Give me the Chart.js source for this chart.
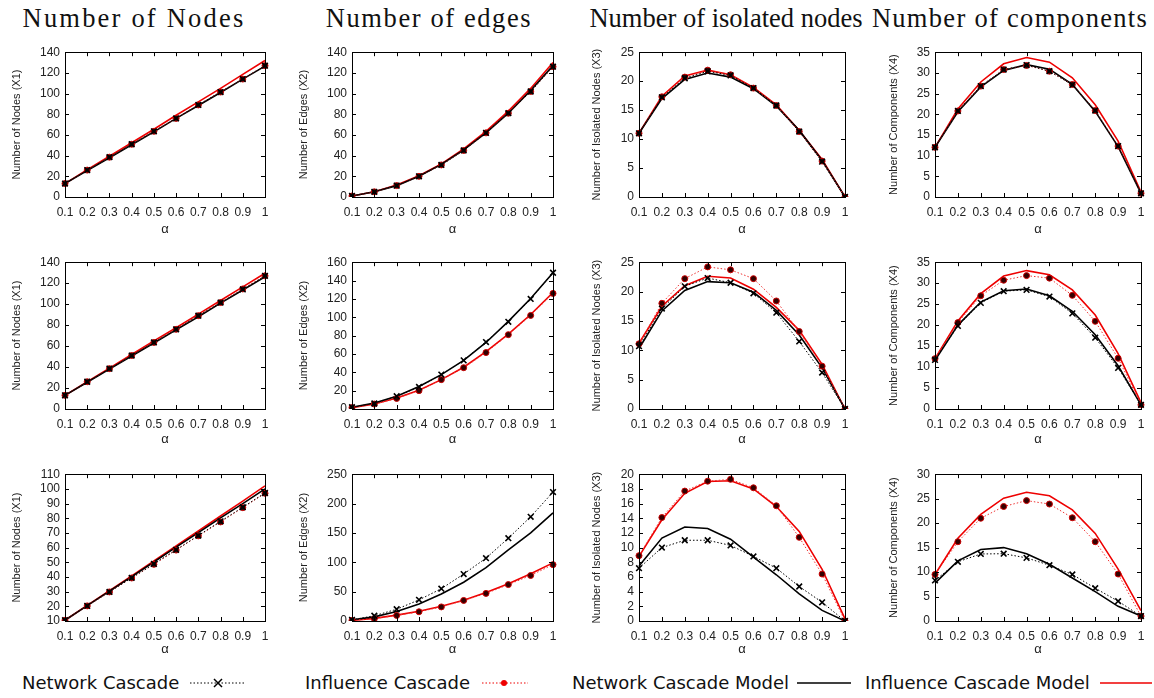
<!DOCTYPE html>
<html>
<head>
<meta charset="utf-8">
<script src="https://cdn.jsdelivr.net/npm/chart.js@4.4.0/dist/chart.umd.min.js"></script>
<style>
  body { margin: 0; background: #fff; }
  #page { position: relative; width: 1154px; height: 698px; overflow: hidden; }
  .cell { position: absolute; }
  .title {
    position: absolute; top: 3px; white-space: nowrap;
    font-family: "Liberation Serif", "DejaVu Serif", serif; font-size: 26.5px; color: #111;
    transform: translateX(-50%);
  }
  .legtext {
    position: absolute; top: 672px; white-space: nowrap;
    font-family: "DejaVu Sans", sans-serif; font-size: 18px; color: #111;
  }
  .legline { position: absolute; top: 674px; }
</style>
</head>
<body>
<div id="page">
  <div class="title" style="left:134px; letter-spacing:2.2px">Number of Nodes</div>
  <div class="title" style="left:429px; letter-spacing:1.6px">Number of edges</div>
  <div class="title" style="left:726px">Number of isolated nodes</div>
  <div class="title" style="left:1010px; letter-spacing:1.3px">Number of components</div>

  <div class="legtext" style="left:22px">Network Cascade</div>
  <svg class="legline" style="left:188px" width="60" height="18">
    <line x1="2" y1="9" x2="58" y2="9" stroke="#000" stroke-width="1" stroke-dasharray="1.5 2"/>
    <path d="M26 5 L34 13 M34 5 L26 13" stroke="#000" stroke-width="1.5"/>
  </svg>
  <div class="legtext" style="left:305px">Influence Cascade</div>
  <svg class="legline" style="left:480px" width="50" height="18">
    <line x1="2" y1="9" x2="48" y2="9" stroke="#e00" stroke-width="1" stroke-dasharray="1.5 2"/>
    <circle cx="24" cy="9" r="3" fill="#e00"/>
  </svg>
  <div class="legtext" style="left:572px">Network Cascade Model</div>
  <svg class="legline" style="left:795px" width="58" height="18">
    <line x1="2" y1="9" x2="56" y2="9" stroke="#000" stroke-width="1.5"/>
  </svg>
  <div class="legtext" style="left:865px">Influence Cascade Model</div>
  <svg class="legline" style="left:1098px" width="56" height="18">
    <line x1="2" y1="9" x2="54" y2="9" stroke="#e00" stroke-width="1.5"/>
  </svg>
</div>

<script>
// alpha values on the x axis
const alphaLabels = ['0.1', '0.2', '0.3', '0.4', '0.5', '0.6', '0.7', '0.8', '0.9', '1'];

// row 1
const nodes1NC  = [13, 26, 38.5, 51, 63.5, 76, 89, 101.5, 114, 127];
const nodes1IC  = [13, 26, 38.5, 51, 63.5, 76, 89, 101.5, 114, 127];
const nodes1NCM = [13, 25.5, 38, 50.5, 63, 76, 88.5, 101, 114, 126.5];
const nodes1ICM = [13, 26.5, 39.5, 52.5, 65.5, 79, 92, 105, 118.5, 132];

const edges1NC  = [1, 5, 11, 20, 31, 45, 62, 81, 102, 126];
const edges1IC  = [1, 5, 11, 20, 31, 45, 62, 81, 102, 126];
const edges1NCM = [1, 5, 11, 20, 31.5, 45.5, 62, 81, 103, 127];
const edges1ICM = [1, 5, 11.5, 20.5, 32, 46.5, 63.5, 83, 105, 130];

const iso1NC  = [11, 17.2, 20.5, 21.7, 21, 18.8, 15.8, 11.3, 6.1, 0];
const iso1IC  = [11, 17.3, 20.7, 21.9, 21.1, 18.8, 15.8, 11.3, 6.2, 0];
const iso1NCM = [11, 17, 20.3, 21.4, 20.7, 18.7, 15.7, 11.5, 6.3, 0];
const iso1ICM = [11, 17.4, 20.9, 21.9, 21.1, 18.9, 15.9, 11.5, 6.5, 0];

const comp1NC  = [12, 20.8, 26.8, 30.8, 31.9, 30.4, 27.1, 20.9, 12.3, 0.9];
const comp1IC  = [12, 20.8, 26.8, 30.8, 31.8, 30.4, 27.2, 20.9, 12.3, 0.9];
const comp1NCM = [12, 20.6, 26.6, 30.6, 32.0, 30.9, 27.2, 20.7, 12.2, 0.9];
const comp1ICM = [12, 21.3, 27.8, 32.2, 33.7, 32.6, 28.8, 22.3, 13.5, 1.2];

// row 2
const nodes2NC  = [13, 26, 38.5, 51, 63.5, 76, 89, 101.5, 114, 127];
const nodes2IC  = [13, 26, 38.5, 51, 63.5, 76, 89, 101.5, 114.5, 127];
const nodes2NCM = [13, 25.5, 38, 50.5, 63, 75.5, 88, 101, 113.5, 126];
const nodes2ICM = [13, 26, 39, 52, 65, 77.5, 90.5, 103.5, 116.5, 129.5];

const edges2NC  = [2, 6, 14, 24, 37.5, 53, 73, 95, 120, 148.5];
const edges2IC  = [1.5, 5.4, 11.5, 20, 32, 45, 61.5, 81, 102, 126];
const edges2NCM = [2, 6.5, 14, 24.5, 37.5, 53, 72.5, 95.5, 120.5, 148.5];
const edges2ICM = [1.5, 5.5, 12, 20.5, 32, 45.5, 62.5, 81.5, 103, 127];

const iso2NC  = [10.7, 17.1, 20.9, 22.3, 21.5, 19.7, 16.4, 11.5, 6.2, 0];
const iso2IC  = [11.1, 18.0, 22.2, 24.2, 23.7, 22.2, 18.4, 13.2, 7.3, 0];
const iso2NCM = [10.3, 16.7, 20.2, 21.7, 21.5, 19.9, 16.8, 12.6, 7.0, 0];
const iso2ICM = [11.2, 17.5, 21.0, 22.6, 22.3, 20.4, 17.3, 13.4, 7.6, 0];

const comp2NC  = [11.7, 19.8, 25.3, 28.1, 28.4, 26.8, 22.8, 17.0, 9.8, 1.0];
const comp2IC  = [12, 20.6, 27.0, 30.7, 31.8, 31.2, 27.1, 20.9, 12.1, 1.0];
const comp2NCM = [11.6, 20.0, 25.5, 28.2, 28.6, 27.0, 23.3, 17.7, 10.3, 1.0];
const comp2ICM = [12, 21.0, 27.5, 31.7, 33.0, 32.0, 28.4, 22.4, 13.2, 1.5];

// row 3
const nodes3NC  = [10.5, 20.3, 29.8, 39.4, 48.9, 58.5, 68.2, 77.9, 87.5, 97.2];
const nodes3IC  = [10.5, 20.3, 29.8, 39.3, 48.6, 58.3, 68.0, 77.5, 87.2, 97.0];
const nodes3NCM = [10.5, 20.5, 30.3, 40.2, 50.2, 60.3, 70.2, 80.2, 90.0, 100.0];
const nodes3ICM = [10.5, 20.7, 30.6, 40.7, 51, 61.2, 71.3, 81.5, 91.7, 102];

const edges3NC  = [2, 9, 20, 36, 55, 80, 107, 141, 177.5, 219.5];
const edges3IC  = [1, 4, 9.5, 15.7, 24, 35, 47, 62, 77.5, 96];
const edges3NCM = [2, 7, 16, 29, 46, 66, 91, 121, 150, 184];
const edges3ICM = [1, 4.5, 10, 16.5, 25, 35.5, 48.5, 63.5, 80.5, 99];

const iso3NC  = [7.2, 10.0, 11.0, 11.0, 10.3, 8.8, 7.2, 4.7, 2.55, 0];
const iso3IC  = [8.9, 14.1, 17.7, 19.05, 19.3, 18.15, 15.7, 11.4, 6.4, 0];
const iso3NCM = [7.5, 11.3, 12.8, 12.6, 11.15, 8.7, 6.3, 3.7, 1.45, 0];
const iso3ICM = [8.8, 13.8, 17.4, 19.0, 19.1, 18.0, 15.6, 12.2, 7.05, 0.3];

const comp3NC  = [8.3, 12.1, 13.7, 13.75, 12.9, 11.4, 9.5, 6.7, 4.05, 1.0];
const comp3IC  = [9.5, 16.2, 21.0, 23.4, 24.6, 23.9, 21.1, 16.2, 9.6, 1.0];
const comp3NCM = [7.75, 12.3, 14.6, 15.0, 13.75, 11.6, 8.8, 6.0, 3.0, 1.0];
const comp3ICM = [9.5, 16.9, 21.8, 25.1, 26.3, 25.6, 22.7, 17.9, 10.6, 2.1];

// axis titles per column, y ranges per panel [min, max, step]
const yTitles = ['Number of Nodes (X1)', 'Number of Edges (X2)', 'Number of Isolated Nodes (X3)', 'Number of Components (X4)'];
const yRanges = [
  [[0, 140, 20], [0, 140, 20], [0, 25, 5], [0, 35, 5]],
  [[0, 140, 20], [0, 160, 20], [0, 25, 5], [0, 35, 5]],
  [[10, 110, 10], [0, 250, 50], [0, 20, 2], [0, 30, 5]]
];

const panels = [
  [[nodes1NC, nodes1IC, nodes1NCM, nodes1ICM], [edges1NC, edges1IC, edges1NCM, edges1ICM],
   [iso1NC, iso1IC, iso1NCM, iso1ICM], [comp1NC, comp1IC, comp1NCM, comp1ICM]],
  [[nodes2NC, nodes2IC, nodes2NCM, nodes2ICM], [edges2NC, edges2IC, edges2NCM, edges2ICM],
   [iso2NC, iso2IC, iso2NCM, iso2ICM], [comp2NC, comp2IC, comp2NCM, comp2ICM]],
  [[nodes3NC, nodes3IC, nodes3NCM, nodes3ICM], [edges3NC, edges3IC, edges3NCM, edges3ICM],
   [iso3NC, iso3IC, iso3NCM, iso3ICM], [comp3NC, comp3IC, comp3NCM, comp3ICM]]
];

// cell geometry
const cols = [
  { left: 0,   width: 290, axisW: 65, padR: 25, titlePad: 10 },
  { left: 290, width: 290, axisW: 62, padR: 27, titlePad: 7 },
  { left: 580, width: 290, axisW: 59, padR: 25, titlePad: 10 },
  { left: 870, width: 284, axisW: 65, padR: 13, titlePad: 17 }
];
const rows = [
  { top: 40,  height: 200, padT: 10, axisH: 43 },
  { top: 250, height: 200, padT: 11, axisH: 41 },
  { top: 462, height: 198, padT: 10, axisH: 39 }
];

Chart.defaults.font.family = '"Liberation Sans", Arial, sans-serif';
Chart.defaults.color = '#222';

// gnuplot style box with inward tick marks
const frameTicks = {
  id: 'frameTicks',
  afterDatasetsDraw(chart) {
    const { ctx, chartArea: a, scales } = chart;
    ctx.save();
    ctx.strokeStyle = '#000';
    ctx.lineWidth = 1;
    ctx.beginPath();
    scales.y.ticks.forEach((t, i) => {
      const y = Math.round(scales.y.getPixelForTick(i)) + 0.5;
      ctx.moveTo(a.left, y); ctx.lineTo(a.left + 4, y);
      ctx.moveTo(a.right, y); ctx.lineTo(a.right - 4, y);
    });
    scales.x.ticks.forEach((t, i) => {
      const x = Math.round(scales.x.getPixelForTick(i)) + 0.5;
      ctx.moveTo(x, a.bottom); ctx.lineTo(x, a.bottom - 4);
      ctx.moveTo(x, a.top); ctx.lineTo(x, a.top + 4);
    });
    ctx.stroke();
    ctx.strokeRect(Math.round(a.left) + 0.5, Math.round(a.top) + 0.5,
      Math.round(a.right - a.left), Math.round(a.bottom - a.top));
    ctx.restore();
  }
};

const makeDatasets = (series) => [
  {
    label: 'Network Cascade', data: series[0],
    borderColor: '#000', borderWidth: 1, borderDash: [1.5, 2],
    pointStyle: 'crossRot', pointRadius: 4, pointBorderWidth: 1.6,
    pointBorderColor: '#000', pointBackgroundColor: '#000'
  },
  {
    label: 'Influence Cascade', data: series[1],
    borderColor: '#e33', borderWidth: 1, borderDash: [1.5, 2],
    pointStyle: 'circle', pointRadius: 3, pointBorderWidth: 1,
    pointBorderColor: '#c00', pointBackgroundColor: '#300'
  },
  {
    label: 'Network Cascade Model', data: series[2],
    borderColor: '#000', borderWidth: 1.6, pointRadius: 0
  },
  {
    label: 'Influence Cascade Model', data: series[3],
    borderColor: '#e00', borderWidth: 1.6, pointRadius: 0
  }
];

const page = document.getElementById('page');

rows.forEach((row, r) => {
  cols.forEach((col, c) => {
    const div = document.createElement('div');
    div.className = 'cell';
    div.style.left = col.left + 'px';
    div.style.top = row.top + 'px';
    div.style.width = col.width + 'px';
    div.style.height = row.height + 'px';
    const canvas = document.createElement('canvas');
    div.appendChild(canvas);
    page.appendChild(div);

    const [yMin, yMax, yStep] = yRanges[r][c];
    new Chart(canvas, {
      type: 'line',
      data: { labels: alphaLabels, datasets: makeDatasets(panels[r][c]) },
      options: {
        responsive: true,
        maintainAspectRatio: false,
        animation: false,
        layout: { padding: { top: row.padT, right: col.padR, left: 0, bottom: 0 } },
        elements: { line: { tension: 0 } },
        plugins: { legend: { display: false }, tooltip: { enabled: false } },
        scales: {
          x: {
            type: 'category',
            offset: false,
            grid: { display: false, drawTicks: false },
            border: { display: false },
            ticks: { font: { size: 12 }, padding: 8, maxRotation: 0, autoSkip: false, color: '#222' },
            title: { display: true, text: 'α', font: { size: 13 }, padding: { top: 0, bottom: 3 }, color: '#222' },
            afterFit: (s) => { s.height = row.axisH; }
          },
          y: {
            min: yMin, max: yMax,
            grid: { display: false, drawTicks: false },
            border: { display: false },
            ticks: { stepSize: yStep, autoSkip: false, font: { size: 12 }, padding: 5, color: '#222' },
            title: { display: true, text: yTitles[c], font: { size: 11 }, padding: { top: col.titlePad, bottom: 0 }, color: '#222' },
            afterFit: (s) => { s.width = col.axisW; }
          }
        }
      },
      plugins: [frameTicks]
    });
  });
});
</script>
</body>
</html>
